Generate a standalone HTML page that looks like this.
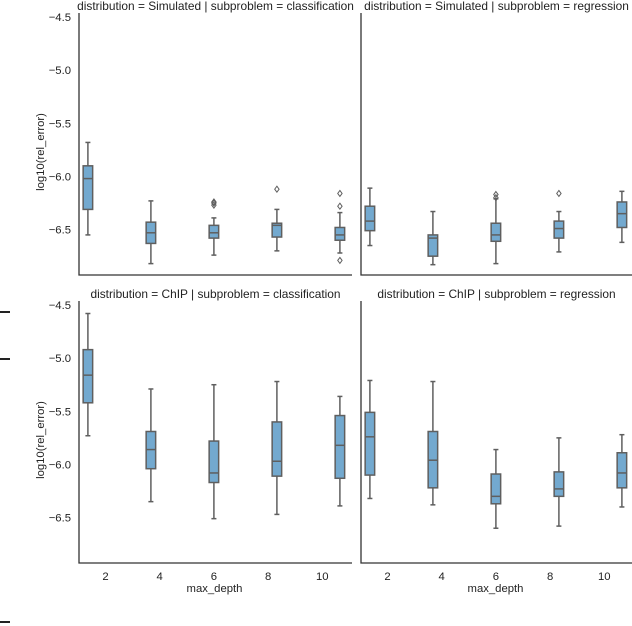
<!DOCTYPE html>
<html><head><meta charset="utf-8"><style>
html,body{margin:0;padding:0;background:#fff;}
svg{display:block;font-family:"Liberation Sans","DejaVu Sans",sans-serif;}
</style></head><body>
<svg id="chart" width="632" height="626" viewBox="0 0 632 626" xmlns="http://www.w3.org/2000/svg">
<rect x="0" y="0" width="632" height="626" fill="#fff"/>
<rect x="0" y="311" width="10" height="2" fill="#222"/>
<rect x="0" y="358" width="10" height="2" fill="#222"/>
<rect x="0" y="621" width="10" height="2" fill="#222"/>
</svg>
<script>
const categories = [2, 4, 6, 8, 10];
const yTicks = [-4.5, -5.0, -5.5, -6.0, -6.5];
// [low whisker, q1, median, q3, high whisker]
const simClassStats = [[-6.55,-6.31,-6.02,-5.90,-5.68],[-6.82,-6.63,-6.53,-6.43,-6.23],[-6.74,-6.58,-6.53,-6.46,-6.39],[-6.70,-6.57,-6.46,-6.44,-6.31],[-6.72,-6.60,-6.55,-6.48,-6.34]];
const simClassOutliers = [[],[],[-6.24,-6.25,-6.27],[-6.12],[-6.16,-6.28,-6.79]];
const simRegStats = [[-6.65,-6.51,-6.42,-6.28,-6.11],[-6.83,-6.75,-6.58,-6.55,-6.33],[-6.82,-6.61,-6.55,-6.44,-6.21],[-6.71,-6.58,-6.49,-6.42,-6.33],[-6.62,-6.48,-6.35,-6.24,-6.14]];
const simRegOutliers = [[],[],[-6.17,-6.20],[-6.16],[]];
const chipClassStats = [[-5.73,-5.42,-5.16,-4.92,-4.58],[-6.35,-6.04,-5.86,-5.69,-5.29],[-6.51,-6.17,-6.08,-5.78,-5.25],[-6.47,-6.11,-5.97,-5.60,-5.22],[-6.39,-6.13,-5.82,-5.54,-5.36]];
const chipClassOutliers = [[],[],[],[],[]];
const chipRegStats = [[-6.32,-6.10,-5.74,-5.51,-5.21],[-6.38,-6.22,-5.96,-5.69,-5.22],[-6.60,-6.37,-6.30,-6.09,-5.86],[-6.58,-6.30,-6.23,-6.07,-5.75],[-6.40,-6.22,-6.08,-5.89,-5.72]];
const chipRegOutliers = [[],[],[],[],[]];

const NS = "http://www.w3.org/2000/svg";
const svg = document.getElementById("chart");
function mk(tag, attrs, parent){ const e=document.createElementNS(NS,tag); for(const k in attrs) e.setAttribute(k,attrs[k]); (parent||svg).appendChild(e); return e; }

const panels = [
  {title:"distribution = Simulated | subproblem = classification", x0:79, x1:352, yTop:13, yBot:275, y45:17, stats:simClassStats, outs:simClassOutliers, yl:true, xl:false},
  {title:"distribution = Simulated | subproblem = regression", x0:361, x1:632, yTop:13, yBot:275, y45:17, stats:simRegStats, outs:simRegOutliers, yl:false, xl:false},
  {title:"distribution = ChIP | subproblem = classification", x0:79, x1:352, yTop:301, yBot:563, y45:305, stats:chipClassStats, outs:chipClassOutliers, yl:true, xl:true},
  {title:"distribution = ChIP | subproblem = regression", x0:361, x1:632, yTop:301, yBot:563, y45:305, stats:chipRegStats, outs:chipRegOutliers, yl:false, xl:true}
];
const SCALE = 106.3;
panels.forEach((p, pi) => {
  const g = mk("g", {});
  
  
  const yS = v => p.y45 + (-4.5 - v) * SCALE;
  const xS = i => p.x0 + 26.5 + i * 54.2;
  const t = mk("text", {x:(p.x0+p.x1)/2, y:p.yTop-3, "text-anchor":"middle", "font-size":"11.9", fill:"#222"}, g);
  t.textContent = p.title;
  
  
  const sp = mk("path", {d:`M${p.x0} ${p.yTop}V${p.yBot}H${p.x1}`, fill:"none", stroke:"#333", "stroke-width":"1.3"}, g);
  
  
  if (p.yl) {
    yTicks.forEach(v => {
      const tl = mk("text", {x:p.x0-8, y:yS(v)+4, "text-anchor":"end", "font-size":"11.3", fill:"#222"}, g);
      tl.textContent = "\u2212" + Math.abs(v).toFixed(1);
      
      
    });
    const yt = mk("text", {x:0, y:0, transform:`translate(44 ${(p.yTop+p.yBot)/2+8}) rotate(-90)`, "text-anchor":"middle", "font-size":"11.3", fill:"#222"}, g);
    yt.textContent = "log10(rel_error)";
    
    
  }
  if (p.xl) {
    categories.forEach((c, i) => {
      const xl = mk("text", {x:xS(i), y:p.yBot+17, "text-anchor":"middle", "font-size":"11.3", fill:"#222"}, g);
      xl.textContent = c;
      
      
    });
    const xt = mk("text", {x:(p.x0+p.x1)/2-1, y:p.yBot+29, "text-anchor":"middle", "font-size":"11.3", fill:"#222"}, g);
    xt.textContent = "max_depth";
    
    
  }
  p.stats.forEach((s, i) => {
    const cx = xS(i) + (i - 2) * 8.8;
    const bw = 9.5;
    const bg = mk("g", {}, g);
    
    
    const st = {stroke:"#5f5f5f", "stroke-width":"1.5", fill:"none"};
    mk("line", Object.assign({x1:cx, x2:cx, y1:yS(s[0]), y2:yS(s[1])}, st), bg);
    mk("line", Object.assign({x1:cx, x2:cx, y1:yS(s[3]), y2:yS(s[4])}, st), bg);
    mk("line", Object.assign({x1:cx-2.5, x2:cx+2.5, y1:yS(s[0]), y2:yS(s[0])}, st), bg);
    mk("line", Object.assign({x1:cx-2.5, x2:cx+2.5, y1:yS(s[4]), y2:yS(s[4])}, st), bg);
    mk("rect", {x:cx-bw/2, y:yS(s[3]), width:bw, height:yS(s[1])-yS(s[3]), fill:"#73a9cf", stroke:"#5f5f5f", "stroke-width":"1.5"}, bg);
    mk("line", Object.assign({x1:cx-bw/2, x2:cx+bw/2, y1:yS(s[2]), y2:yS(s[2])}, st), bg);
    p.outs[i].forEach(o => {
      const d = mk("path", {d:`M${cx} ${yS(o)-3}L${cx+2.2} ${yS(o)}L${cx} ${yS(o)+3}L${cx-2.2} ${yS(o)}Z`, fill:"none", stroke:"#5f5f5f", "stroke-width":"1"}, bg);
      
      
    });
  });
});
</script>
</body></html>
